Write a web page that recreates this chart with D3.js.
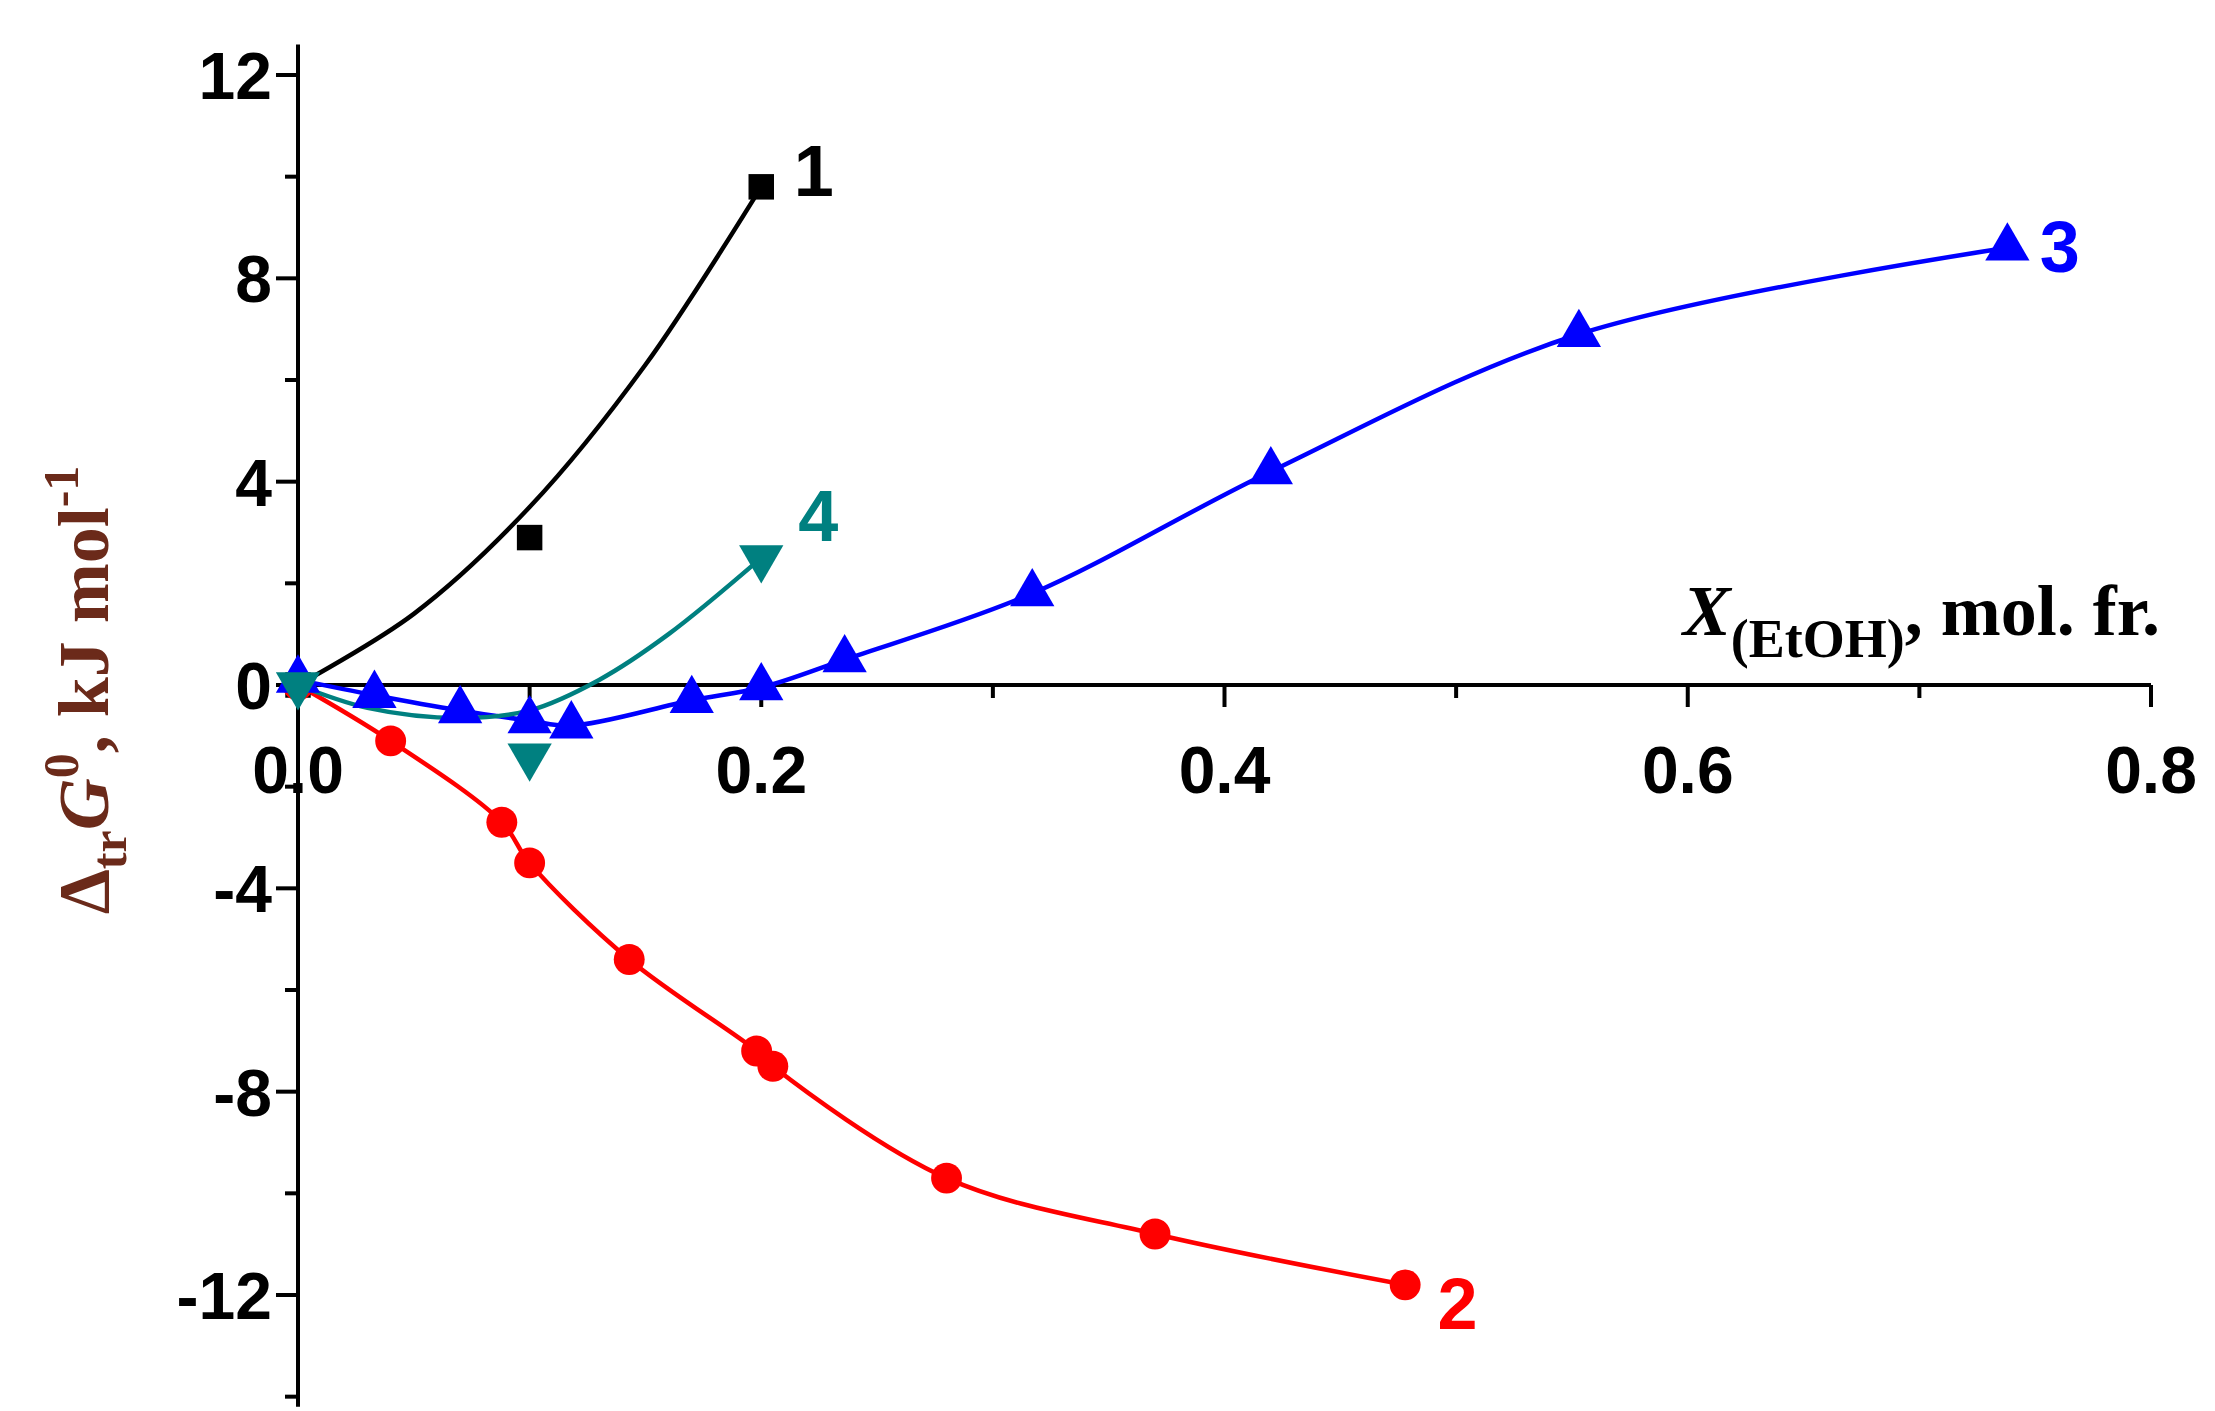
<!DOCTYPE html>
<html><head><meta charset="utf-8">
<script src="https://cdn.jsdelivr.net/npm/d3@7"></script>
<style>body{margin:0;background:#fff}</style>
</head><body>
<script>
// measured points
var s1x = [0, 0.1, 0.2], s1y = [0, 2.9, 9.8];
var f1x = [0, 0.05, 0.1, 0.15, 0.2], f1y = [0, 1.4, 3.5, 6.3, 9.8];
var s2x = [0, 0.04, 0.088, 0.1, 0.143, 0.198, 0.205, 0.28, 0.37, 0.478];
var s2y = [0, -1.1, -2.7, -3.5, -5.4, -7.2, -7.5, -9.7, -10.8, -11.8];
var s3x = [0, 0.033, 0.07, 0.1, 0.118, 0.17, 0.2, 0.236, 0.317, 0.42, 0.553, 0.738];
var s3y = [0.1, -0.2, -0.5, -0.7, -0.8, -0.3, -0.05, 0.5, 1.8, 4.2, 6.9, 8.6];
var s4x = [0, 0.1, 0.2], s4y = [0, -1.4, 2.5];
var f4x = [0, 0.03, 0.07, 0.1, 0.13, 0.16, 0.2], f4y = [0, -0.45, -0.65, -0.5, 0.1, 1.0, 2.5];
var xTicks = [0, 0.2, 0.4, 0.6, 0.8], yTicks = [-12, -8, -4, 0, 4, 8, 12];

var W = 2215, H = 1411;
var svg = d3.select("body").append("svg").attr("width", W).attr("height", H);
var x = d3.scaleLinear().domain([0, 0.8]).range([298, 2151]);
var y = d3.scaleLinear().domain([-12, 12]).range([1295, 75]);
var zip = function (a, b) { return a.map(function (v, i) { return [v, b[i]]; }); };
var sans = "Liberation Sans, Arial";

// y axis
svg.append("line").attr("x1", x(0)).attr("x2", x(0)).attr("y1", y(12.6)).attr("y2", y(-14.2))
    .attr("stroke", "#000").attr("stroke-width", 4);
d3.range(-14, 13, 2).forEach(function (v) {
    var big = v % 4 === 0;
    svg.append("line").attr("x1", x(0)).attr("x2", x(0) - (big ? 22 : 13))
        .attr("y1", y(v)).attr("y2", y(v)).attr("stroke", "#000").attr("stroke-width", 4);
});
yTicks.forEach(function (v) {
    svg.append("text").attr("x", 272).attr("y", y(v) + 24).attr("text-anchor", "end")
        .attr("font-family", sans).attr("font-weight", "bold")
        .attr("font-size", 66).text(v);
});

// x axis at y=0
svg.append("line").attr("x1", x(0)).attr("x2", x(0.8)).attr("y1", y(0)).attr("y2", y(0))
    .attr("stroke", "#000").attr("stroke-width", 4);
d3.range(0, 0.81, 0.1).forEach(function (v) {
    var big = Math.round(v * 10) % 2 === 0;
    svg.append("line").attr("x1", x(v)).attr("x2", x(v)).attr("y1", y(0)).attr("y2", y(0) + (big ? 22 : 13))
        .attr("stroke", "#000").attr("stroke-width", 4);
});
xTicks.forEach(function (v) {
    svg.append("text").attr("x", x(v)).attr("y", y(0) + 108).attr("text-anchor", "middle")
        .attr("font-family", sans).attr("font-weight", "bold")
        .attr("font-size", 66).text(v.toFixed(1));
});

// titles
var xt = svg.append("text").attr("x", 2160).attr("y", 635).attr("text-anchor", "end")
    .attr("font-family", "Liberation Serif, Times New Roman").attr("font-weight", "bold").attr("font-size", 72);
xt.append("tspan").attr("font-style", "italic").text("X");
xt.append("tspan").attr("font-size", 54).attr("dy", 22).text("(EtOH)");
xt.append("tspan").attr("dy", -22).text(", mol. fr.");

var yt = svg.append("text").attr("transform", "translate(108,690) rotate(-90)").attr("text-anchor", "middle")
    .attr("font-family", "Liberation Serif, Times New Roman").attr("font-weight", "bold")
    .attr("font-size", 72).attr("fill", "#6b2a1a");
yt.append("tspan").text("\u0394");
yt.append("tspan").attr("font-size", 50).attr("dy", 18).text("tr");
yt.append("tspan").attr("dy", -18).attr("font-style", "italic").text("G");
yt.append("tspan").attr("font-size", 50).attr("dy", -30).text("0");
yt.append("tspan").attr("dy", 30).text(", kJ mol");
yt.append("tspan").attr("font-size", 50).attr("dy", -30).text("-1");

var line = d3.line().x(function (d) { return x(d[0]); }).y(function (d) { return y(d[1]); }).curve(d3.curveCatmullRom);
function drawLine(pts, col) {
    svg.append("path").datum(pts).attr("d", line).attr("fill", "none").attr("stroke", col).attr("stroke-width", 4.5);
}
drawLine(zip(f1x, f1y), "#000");
drawLine(zip(s2x, s2y), "#ff0000");
drawLine(zip(s3x, s3y), "#0000ff");
drawLine(zip(f4x, f4y), "#008080");

function marks(pts, col, type, size) {
    svg.selectAll(null).data(pts).enter().append("path")
        .attr("transform", function (d) { return "translate(" + x(d[0]) + "," + y(d[1]) + ")" + (type === "down" ? " rotate(180)" : ""); })
        .attr("d", d3.symbol().type(type === "sq" ? d3.symbolSquare : type === "ci" ? d3.symbolCircle : d3.symbolTriangle).size(size))
        .attr("fill", col);
}
marks(zip(s1x, s1y), "#000", "sq", 650);
marks(zip(s2x, s2y), "#ff0000", "ci", 750);
marks(zip(s3x, s3y), "#0000ff", "tri", 850);
marks(zip(s4x, s4y), "#008080", "down", 850);

var labs = [["1", 0.214, 10.1, "#000"], ["2", 0.492, -12.2, "#ff0000"], ["3", 0.752, 8.6, "#0000ff"], ["4", 0.216, 3.3, "#008080"]];
labs.forEach(function (l) {
    svg.append("text").attr("x", x(l[1])).attr("y", y(l[2]) + 24).attr("fill", l[3])
        .attr("font-family", sans).attr("font-weight", "bold").attr("font-size", 72).text(l[0]);
});
</script>
</body></html>
